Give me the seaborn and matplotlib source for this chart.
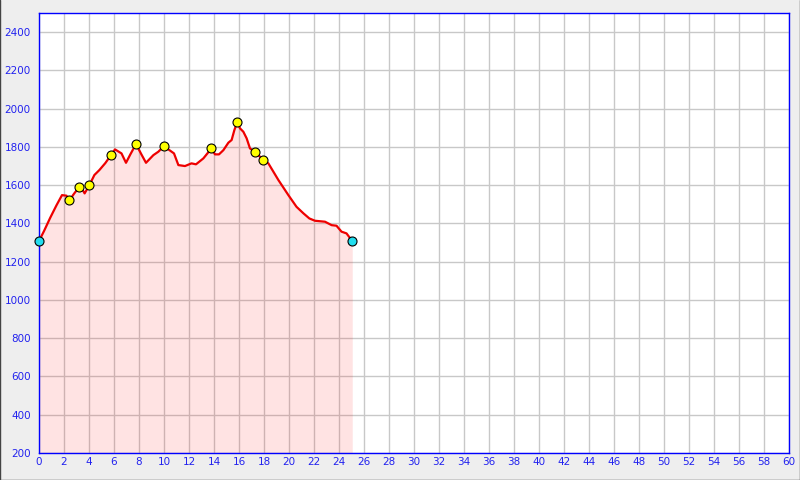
import matplotlib
matplotlib.use("Agg")
import matplotlib.pyplot as plt
from matplotlib.lines import Line2D
import seaborn as sns
import pandas as pd

# ==================== 数据 ====================
# 距离 (km) 与 海拔 (m)，读自原图
dist = [0, 0.4, 0.9, 1.4, 1.84, 2.2, 2.42, 2.8, 3.23, 3.45, 3.65, 4.03, 4.43, 4.83,
        5.3, 5.76, 6.08, 6.6, 6.96, 7.3, 7.76, 8.2, 8.56, 9.15, 9.55, 10.0, 10.35,
        10.8, 11.15, 11.68, 12.2, 12.56, 13.15, 13.79, 14.08, 14.4, 14.75, 15.15,
        15.41, 15.63, 15.87, 16.08, 16.35, 16.61, 16.88, 17.28, 17.95, 18.35, 19.15,
        19.95, 20.6, 21.15, 21.63, 22.08, 22.88, 23.41, 23.8, 24.2, 24.6, 25.06]
elev = [1308, 1360, 1430, 1495, 1548, 1545, 1520, 1555, 1592, 1580, 1557, 1600, 1653,
        1679, 1715, 1757, 1787, 1766, 1717, 1760, 1815, 1760, 1717, 1757, 1775, 1804,
        1787, 1766, 1705, 1700, 1714, 1709, 1740, 1792, 1761, 1761, 1783, 1822, 1836,
        1888, 1931, 1897, 1879, 1845, 1792, 1775, 1731, 1714, 1627, 1548, 1487, 1453,
        1426, 1414, 1409, 1391, 1388, 1357, 1348, 1308]

# 途经点 (黄色)
wp_dist = [2.42, 3.23, 4.03, 5.76, 7.76, 10.0, 13.79, 15.87, 17.28, 17.95]
wp_elev = [1520, 1592, 1600, 1757, 1815, 1804, 1792, 1931, 1775, 1731]

# 起点 / 终点 (青色)
end_dist = [0, 25.06]
end_elev = [1308, 1308]

x_ticks = list(range(0, 61, 2))
y_ticks = list(range(200, 2401, 200))

# ==================== 绘图 ====================
sns.set_style("white")
plt.rcParams['font.family'] = ['DejaVu Sans']

fig = plt.figure(figsize=(8, 4.8), dpi=100)
fig.patch.set_facecolor('#eeeeee')
# 外框: 左、右、下 三条细暗线
for xs, ys in [([0.0006, 0.0006], [0, 1]), ([0.9994, 0.9994], [0, 1]), ([0, 1], [0.001, 0.001])]:
    fig.add_artist(Line2D(xs, ys, transform=fig.transFigure, color='#444444', linewidth=1.0))

ax = fig.add_axes([0.04875, 0.05625, 0.9375, 0.91667])
ax.set_facecolor('white')

ax.set_xlim(0, 60)
ax.set_ylim(200, 2500)
ax.set_xticks(x_ticks)
ax.set_yticks(y_ticks)
ax.grid(True, color='#c8c8c8', linewidth=1.0)
ax.set_axisbelow(True)

df = pd.DataFrame({'dist': dist, 'elev': elev})
ax.fill_between(df['dist'], df['elev'], 200, color='#ff0000', alpha=0.11, linewidth=0, zorder=2)
sns.lineplot(data=df, x='dist', y='elev', sort=False, color='#ee0000', linewidth=1.6,
             ax=ax, zorder=3)
sns.scatterplot(x=wp_dist, y=wp_elev, color='#ffff00', edgecolor='black', linewidth=0.8,
                s=42, ax=ax, zorder=4)
sns.scatterplot(x=end_dist, y=end_elev, color='#22ddee', edgecolor='black', linewidth=0.8,
                s=42, ax=ax, zorder=4, clip_on=False)

ax.set_xlabel('')
ax.set_ylabel('')
for side in ['left', 'bottom', 'top', 'right']:
    ax.spines[side].set_visible(True)
    ax.spines[side].set_color('#0000ff')
    ax.spines[side].set_linewidth(1.0)
ax.tick_params(axis='both', direction='in', length=4, width=1, color='#0000ff',
               labelcolor='#2222ee', labelsize=7.5)
ax.tick_params(axis='y', pad=6)
ax.tick_params(axis='x', pad=3)

plt.savefig('out.png', dpi=100, facecolor=fig.get_facecolor())
